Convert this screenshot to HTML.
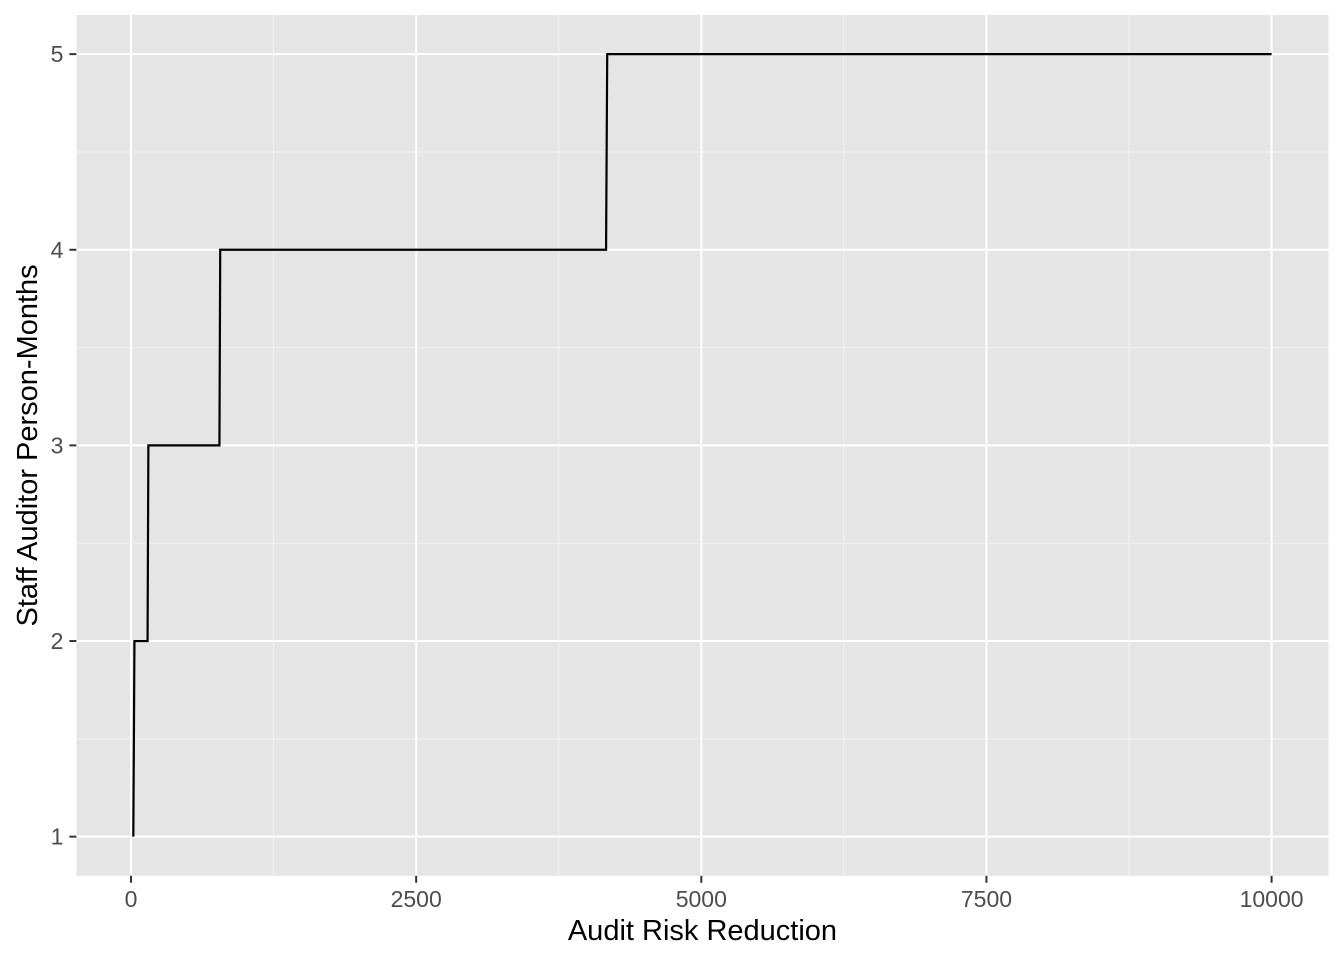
<!DOCTYPE html>
<html><head><meta charset="utf-8"><style>
html,body{margin:0;padding:0;background:#fff;}
svg{display:block;font-family:"Liberation Sans",Arial,sans-serif;}
</style></head><body>
<svg id="chart" width="1344" height="960" xmlns="http://www.w3.org/2000/svg">
<rect x="0" y="0" width="1344" height="960" fill="#fff"/>
<g id="plot"></g>
</svg>
<script>
const xValues = [20, 30, 145, 152, 775, 782, 4165, 4175, 10000];
const yValues = [1, 2, 2, 3, 3, 4, 4, 5, 5];
const xTicks = [0, 2500, 5000, 7500, 10000];
const yTicks = [1, 2, 3, 4, 5];

const L = 76.4, R = 1328.5, T = 15, B = 875.8;
const xMin = -479, xMax = 10499, yMin = 0.8, yMax = 5.2;
const sx = v => L + (v - xMin) / (xMax - xMin) * (R - L);
const sy = v => B - (v - yMin) / (yMax - yMin) * (B - T);
const NS = "http://www.w3.org/2000/svg";
const g = document.getElementById('plot');
function mk(tag, attrs, parent) {
  const e = document.createElementNS(NS, tag);
  for (const k in attrs) e.setAttribute(k, attrs[k]);
  (parent || g).appendChild(e);
  return e;
}
const panel = mk('rect', {x: L, y: T, width: R - L, height: B - T, fill: '#e5e5e5'});


for (let i = 0; i < xTicks.length - 1; i++) {
  const m = (xTicks[i] + xTicks[i + 1]) / 2;
  const ln = mk('line', {x1: sx(m), x2: sx(m), y1: T, y2: B, stroke: '#f2f2f2', 'stroke-width': 1});
  
  
}
for (let i = 0; i < yTicks.length - 1; i++) {
  const m = (yTicks[i] + yTicks[i + 1]) / 2;
  const ln = mk('line', {x1: L, x2: R, y1: sy(m), y2: sy(m), stroke: '#f2f2f2', 'stroke-width': 1});
  
  
}
xTicks.forEach(t => {
  const x = sx(t);
  const ln = mk('line', {x1: x, x2: x, y1: T, y2: B, stroke: '#fff', 'stroke-width': 2});
  
  
  const tk = mk('line', {x1: x, x2: x, y1: B, y2: B + 7, stroke: '#333', 'stroke-width': 2});
  
  
  const tx = mk('text', {x: x, y: 907, 'text-anchor': 'middle', 'font-size': 23, fill: '#4d4d4d'});
  tx.textContent = t;
  
  
});
yTicks.forEach(t => {
  const y = sy(t);
  const ln = mk('line', {x1: L, x2: R, y1: y, y2: y, stroke: '#fff', 'stroke-width': 2});
  
  
  const tk = mk('line', {x1: L - 7, x2: L, y1: y, y2: y, stroke: '#333', 'stroke-width': 2});
  
  
  const tx = mk('text', {x: L - 13, y: y + 8, 'text-anchor': 'end', 'font-size': 23, fill: '#4d4d4d'});
  tx.textContent = t;
  
  
});
const pts = xValues.map((v, i) => sx(v).toFixed(2) + ',' + sy(yValues[i]).toFixed(2)).join(' ');
const line = mk('polyline', {points: pts, fill: 'none', stroke: '#000', 'stroke-width': 2.2, 'stroke-linejoin': 'miter'});


const xt = mk('text', {x: (L + R) / 2, y: 940, 'text-anchor': 'middle', 'font-size': 29, fill: '#000'});
xt.textContent = 'Audit Risk Reduction';


const yt = mk('text', {x: 0, y: 0, 'text-anchor': 'middle', 'font-size': 29, fill: '#000', transform: 'translate(37,' + ((T + B) / 2) + ') rotate(-90)'});
yt.textContent = 'Staff Auditor Person-Months';


</script>
</body></html>
